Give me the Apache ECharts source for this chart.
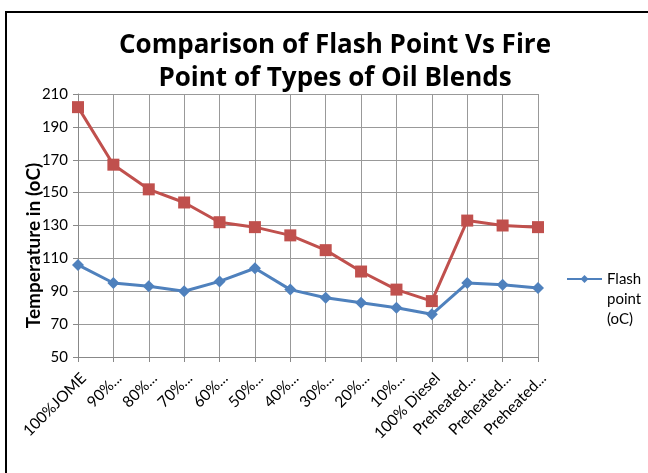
<!DOCTYPE html>
<html>
<head>
<meta charset="utf-8">
<script src="https://cdn.jsdelivr.net/npm/echarts@6/dist/echarts.min.js"></script>
<style>
  html, body { margin: 0; padding: 0; background: #fff; }
  #frame { position: absolute; left: 5px; top: 11px; width: 700px; height: 470px; border: 2px solid #000; border-bottom: none; box-sizing: border-box; }
  #chart { position: absolute; left: 0; top: 0; width: 648px; height: 473px; }
</style>
</head>
<body>
<div id="frame"></div>
<div id="chart"></div>
<script>
const categories = ['100%JOME', '90%...', '80%...', '70%...', '60%...', '50%...', '40%...', '30%...', '20%...', '10%...', '100% Diesel', 'Preheated...', 'Preheated...', 'Preheated...'];
const flashPoint = [106, 95, 93, 90, 96, 104, 91, 86, 83, 80, 76, 95, 94, 92];
const firePoint = [202, 167, 152, 144, 132, 129, 124, 115, 102, 91, 84, 133, 130, 129];

const chart = echarts.init(document.getElementById('chart'));

const option = {
  animation: false,
  title: {
    text: 'Comparison of Flash Point Vs Fire\nPoint of Types of Oil Blends',
    left: 330,
    top: 24,
    textAlign: 'center',
    textStyle: {
      fontFamily: 'Open Sans',
      fontSize: 26,
      fontWeight: 'bold',
      color: '#000',
      lineHeight: 33,
    },
  },
  legend: {
    data: ['Flash point (oC)'],
    orient: 'vertical',
    left: 561,
    top: 224,
    itemWidth: 35,
    itemHeight: 10,
    formatter: () => '\n\nFlash\npoint\n(oC)',
    textStyle: { fontFamily: 'Lato', fontSize: 15, color: '#000', lineHeight: 20 },
  },
  grid: { left: 78, right: 110, top: 94, bottom: 116 },
  xAxis: {
    type: 'category',
    data: categories,
    boundaryGap: false,
    axisLine: { lineStyle: { color: '#888', width: 1 } },
    axisTick: { show: true, alignWithLabel: true, length: 5, lineStyle: { color: '#888' } },
    splitLine: { show: true, lineStyle: { color: '#999', width: 1 } },
    axisLabel: { rotate: 45, interval: 0, margin: 13, verticalAlign: 'top', fontFamily: 'Lato', fontSize: 15.5, color: '#000' },
  },
  yAxis: {
    type: 'value',
    min: 50,
    max: 210,
    interval: 20,
    name: 'Temperature in (oC)',
    nameLocation: 'middle',
    nameGap: 35,
    nameMoveOverlap: false,
    nameTextStyle: { fontFamily: 'Lato', fontSize: 19, fontWeight: 'bold', color: '#000', padding: [0, 40, 0, 0] },
    axisLine: { show: true, lineStyle: { color: '#888', width: 1 } },
    axisTick: { show: true, length: 5, lineStyle: { color: '#888' } },
    splitLine: { show: true, lineStyle: { color: '#999', width: 1 } },
    axisLabel: { margin: 10, fontFamily: 'Lato', fontSize: 15, color: '#000' },
  },
  series: [
    {
      name: 'Fire point (oC)',
      type: 'line',
      data: firePoint,
      symbol: 'rect',
      symbolSize: 12,
      lineStyle: { color: '#C0504D', width: 3 },
      itemStyle: { color: '#C0504D' },
    },
    {
      name: 'Flash point (oC)',
      type: 'line',
      data: flashPoint,
      symbol: 'diamond',
      symbolSize: 12,
      lineStyle: { color: '#4F81BD', width: 3 },
      itemStyle: { color: '#4F81BD' },
    },
  ],
};

chart.setOption(option);
</script>
</body>
</html>
